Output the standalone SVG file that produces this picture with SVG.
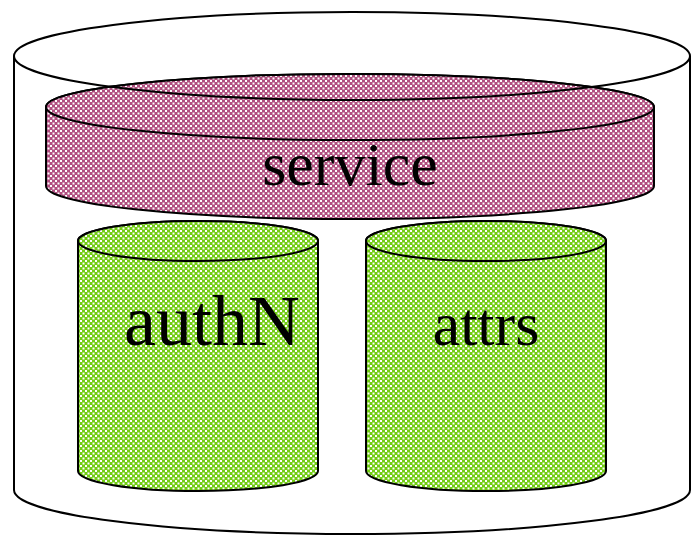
<svg xmlns="http://www.w3.org/2000/svg" width="691" height="535" viewBox="0 0 691 535">
  <defs>
    <!-- fine dotted fills: coloured ground with staggered white dots -->
    <pattern id="checkPink" width="5" height="5" patternUnits="userSpaceOnUse">
      <rect width="5" height="5" fill="#b04f7f"/>
      <rect x="0" y="0" width="2" height="2" fill="#ffffff"/>
      <rect x="2.5" y="2.5" width="2" height="2" fill="#ffffff"/>
    </pattern>
    <pattern id="checkGreen" width="5" height="5" patternUnits="userSpaceOnUse">
      <rect width="5" height="5" fill="#72cc14"/>
      <rect x="0" y="0" width="2" height="2" fill="#ffffff"/>
      <rect x="2.5" y="2.5" width="2" height="2" fill="#ffffff"/>
    </pattern>
  </defs>
  <style>
    .edge { stroke: #000; stroke-width: 2; }
    .label { font-family: "Liberation Serif", "Times New Roman", serif; font-size: 62px; fill: #000; text-anchor: middle; }
  </style>
  <rect width="691" height="535" fill="#ffffff"/>

  <!-- outer container cylinder -->
  <g id="container">
    <path class="edge" fill="none" d="M14,56 L14,490 A338,44 0 0 0 690,490 L690,56"/>
  </g>

  <!-- service layer -->
  <g id="service">
    <path class="edge" fill="url(#checkPink)" d="M46,107 L46,186 A304,33 0 0 0 654,186 L654,107 A304,33 0 0 0 46,107 Z"/>
    <ellipse class="edge" fill="url(#checkPink)" cx="350" cy="107" rx="304" ry="33"/>
    <text class="label" x="350" y="185">service</text>
  </g>

  <!-- top rim of the container, drawn over the service layer -->
  <g id="container-rim">
    <ellipse class="edge" fill="none" cx="352" cy="56" rx="338" ry="44"/>
  </g>

  <!-- authN store -->
  <g id="authN">
    <path class="edge" fill="url(#checkGreen)" d="M78,241 L78,471 A120,20 0 0 0 318,471 L318,241 A120,20 0 0 0 78,241 Z"/>
    <ellipse class="edge" fill="url(#checkGreen)" cx="198" cy="241" rx="120" ry="20"/>
    <text class="label" x="212" y="345" style="font-size:72px">authN</text>
  </g>

  <!-- attrs store -->
  <g id="attrs">
    <path class="edge" fill="url(#checkGreen)" d="M366,241 L366,471 A120,20 0 0 0 606,471 L606,241 A120,20 0 0 0 366,241 Z"/>
    <ellipse class="edge" fill="url(#checkGreen)" cx="486" cy="241" rx="120" ry="20"/>
    <text class="label" x="486" y="345">attrs</text>
  </g>

  <g id="connectors"/>
</svg>
